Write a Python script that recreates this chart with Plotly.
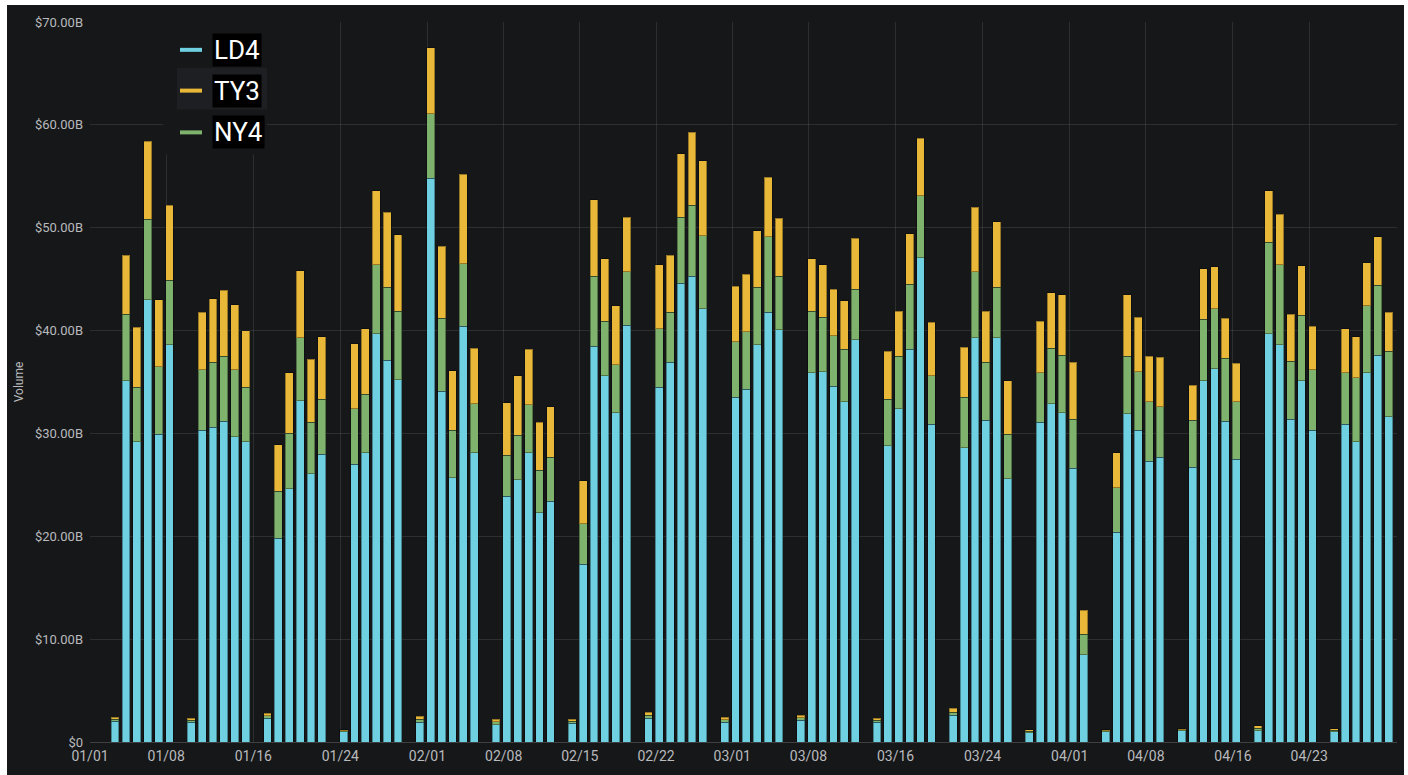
import pandas as pd
import plotly.graph_objects as go

# ---- data (values in $B) ----
# trading days: Sunday open + Mon-Fri, Jan 3 .. Apr 30 2021 (no Saturdays)
dates = [d for d in pd.date_range("2021-01-03", "2021-04-30", freq="D") if d.dayofweek != 5]

ld4 = [2.0, 35.1, 29.2, 43.0, 29.9, 38.6,
       1.9, 30.3, 30.6, 31.2, 29.7, 29.2,
       2.3, 19.8, 24.6, 33.2, 26.1, 28.0,
       1.0, 27.0, 28.1, 39.7, 37.1, 35.2,
       1.9, 54.8, 34.1, 25.7, 40.4, 28.1,
       1.7, 23.9, 25.5, 28.1, 22.3, 23.4,
       1.8, 17.3, 38.5, 35.6, 32.0, 40.5,
       2.3, 34.5, 36.9, 44.6, 45.3, 42.1,
       1.9, 33.5, 34.3, 38.6, 41.8, 40.1,
       2.1, 35.9, 36.0, 34.6, 33.1, 39.1,
       1.9, 28.8, 32.4, 38.2, 47.1, 30.9,
       2.6, 28.6, 39.3, 31.3, 39.3, 25.6,
       0.9, 31.1, 32.9, 32.0, 26.6, 8.5,
       1.0, 20.4, 31.9, 30.3, 27.3, 27.7,
       1.1, 26.7, 35.1, 36.3, 31.2, 27.5,
       1.1, 39.7, 38.6, 31.4, 35.1, 30.3,
       1.0, 30.9, 29.2, 35.9, 37.6, 31.6]

ny4 = [0.2, 6.5, 5.3, 7.8, 6.6, 6.3,
       0.2, 5.9, 6.3, 6.3, 6.5, 5.3,
       0.25, 4.6, 5.4, 6.1, 5.0, 5.3,
       0.1, 5.4, 5.7, 6.7, 7.1, 6.7,
       0.3, 6.3, 7.1, 4.6, 6.1, 4.8,
       0.25, 4.0, 4.3, 4.7, 4.1, 4.3,
       0.2, 3.9, 6.8, 5.3, 4.7, 5.2,
       0.3, 5.7, 4.9, 6.4, 6.9, 7.1,
       0.25, 5.4, 5.6, 5.6, 7.3, 5.2,
       0.25, 6.0, 5.3, 4.9, 5.1, 4.9,
       0.2, 4.5, 5.1, 6.3, 6.0, 4.7,
       0.3, 4.9, 6.4, 5.6, 4.9, 4.3,
       0.15, 4.8, 5.4, 5.6, 4.8, 2.0,
       0.1, 4.3, 5.6, 5.7, 5.8, 4.9,
       0.1, 4.6, 6.0, 5.8, 6.1, 5.6,
       0.25, 8.9, 7.8, 5.6, 6.4, 5.9,
       0.15, 5.0, 6.2, 6.5, 6.8, 6.4]

ty3 = [0.2, 5.7, 5.8, 7.6, 6.5, 7.3,
       0.2, 5.6, 6.2, 6.4, 6.3, 5.5,
       0.25, 4.5, 5.9, 6.5, 6.1, 6.1,
       0.1, 6.3, 6.4, 7.2, 7.3, 7.4,
       0.3, 6.4, 7.0, 5.8, 8.7, 5.4,
       0.25, 5.1, 5.8, 5.4, 4.7, 4.9,
       0.2, 4.2, 7.4, 6.1, 5.7, 5.3,
       0.3, 6.2, 5.5, 6.2, 7.1, 7.3,
       0.25, 5.4, 5.6, 5.5, 5.8, 5.6,
       0.25, 5.1, 5.1, 4.5, 4.7, 5.0,
       0.2, 4.7, 4.4, 4.9, 5.6, 5.2,
       0.4, 4.9, 6.3, 5.0, 6.4, 5.2,
       0.15, 5.0, 5.4, 5.9, 5.5, 2.3,
       0.1, 3.4, 6.0, 5.3, 4.4, 4.8,
       0.1, 3.4, 4.9, 4.1, 3.9, 3.7,
       0.25, 5.0, 4.9, 4.6, 4.8, 4.2,
       0.15, 4.3, 4.0, 4.2, 4.7, 3.8]

series_names = ["LD4", "NY4", "TY3"]
series_colors = ["#6ED0E0", "#7EB26D", "#EAB839"]
legend_order = ["LD4", "TY3", "NY4"]

y_ticks = [0, 10, 20, 30, 40, 50, 60, 70]
y_ticktext = ["$0" if v == 0 else f"${v:.2f}B" for v in y_ticks]
x_ticks = ["2021-01-01", "2021-01-08", "2021-01-16", "2021-01-24", "2021-02-01",
           "2021-02-08", "2021-02-15", "2021-02-22", "2021-03-01", "2021-03-08",
           "2021-03-16", "2021-03-24", "2021-04-01", "2021-04-08", "2021-04-16",
           "2021-04-23"]

# ---- layout geometry (pixels) ----
W, H = 1408, 775
L, R, T, B = 90, 1397, 22, 746
BG = "#161719"
GRID = "rgba(255,255,255,0.10)"
TXT = "#b9babd"
DAY_MS = 86400000


def px_x(p):
    return (p - L) / (R - L)


def px_y(p):
    return (B - p) / (B - T)


fig = go.Figure()
for name, vals, col in zip(series_names, [ld4, ny4, ty3], series_colors):
    fig.add_trace(go.Bar(
        x=dates, y=vals, name=name, showlegend=False,
        marker=dict(color=col, line=dict(color="rgba(0,0,0,0.35)", width=1)),
        width=0.72 * DAY_MS, offset=-0.06 * DAY_MS,
    ))

white = "#ffffff"
shapes = [
    # thin white frame round the dark panel (left, top, right)
    dict(type="rect", xref="paper", yref="paper", layer="above",
         x0=px_x(-2), x1=px_x(7), y0=px_y(780), y1=px_y(-2),
         fillcolor=white, line=dict(width=0)),
    dict(type="rect", xref="paper", yref="paper", layer="above",
         x0=px_x(-2), x1=px_x(1410), y0=px_y(5), y1=px_y(-2),
         fillcolor=white, line=dict(width=0)),
    dict(type="rect", xref="paper", yref="paper", layer="above",
         x0=px_x(1404), x1=px_x(1410), y0=px_y(780), y1=px_y(-2),
         fillcolor=white, line=dict(width=0)),
    # legend background
    dict(type="rect", xref="paper", yref="paper", layer="above",
         x0=px_x(163), x1=px_x(267), y0=px_y(155), y1=px_y(5),
         fillcolor=BG, line=dict(width=0)),
    # hovered legend row
    dict(type="rect", xref="paper", yref="paper", layer="above",
         x0=px_x(177), x1=px_x(267), y0=px_y(110), y1=px_y(68),
         fillcolor="#1e1f23", line=dict(width=0)),
]
annotations = []
leg_y = {"LD4": 50, "TY3": 91, "NY4": 133}
for name in legend_order:
    col = series_colors[series_names.index(name)]
    yy = leg_y[name]
    shapes.append(dict(type="line", xref="paper", yref="paper", layer="above",
                       x0=px_x(180), x1=px_x(202), y0=px_y(yy), y1=px_y(yy),
                       line=dict(color=col, width=4)))
    annotations.append(dict(text=name, xref="paper", yref="paper",
                            x=px_x(212), y=px_y(yy), xanchor="left", yanchor="middle",
                            showarrow=False, bgcolor="#000000", borderpad=1,
                            font=dict(family="Liberation Sans Narrow, Roboto, Arial, sans-serif",
                                      size=26, color="#ffffff")))

fig.update_layout(
    width=W, height=H,
    margin=dict(l=L, r=W - R, t=T, b=H - B, pad=0),
    paper_bgcolor=BG, plot_bgcolor=BG,
    barmode="stack",
    shapes=shapes, annotations=annotations,
    font=dict(family="Roboto, Arial, sans-serif", color=TXT),
    xaxis=dict(type="date", range=["2021-01-01", "2021-05-01 01:40"],
               tickvals=x_ticks, tickformat="%m/%d",
               showgrid=True, gridcolor=GRID, gridwidth=1,
               ticks="", tickfont=dict(size=14, color=TXT), ticklabelstandoff=4,
               showline=False, zeroline=False, fixedrange=True),
    yaxis=dict(range=[0, 70], tickvals=y_ticks, ticktext=y_ticktext,
               showgrid=True, gridcolor=GRID, gridwidth=1,
               zeroline=True, zerolinecolor="rgba(255,255,255,0.18)", zerolinewidth=1,
               ticks="", tickfont=dict(size=13, color=TXT), ticklabelstandoff=6,
               title=dict(text="Volume", font=dict(size=12, color=TXT), standoff=8),
               showline=False, fixedrange=True),
    hovermode=False,
)

fig.write_html("out.html", config={"displayModeBar": False},
               post_script="document.body.style.margin='0';document.body.style.overflow='hidden';")
